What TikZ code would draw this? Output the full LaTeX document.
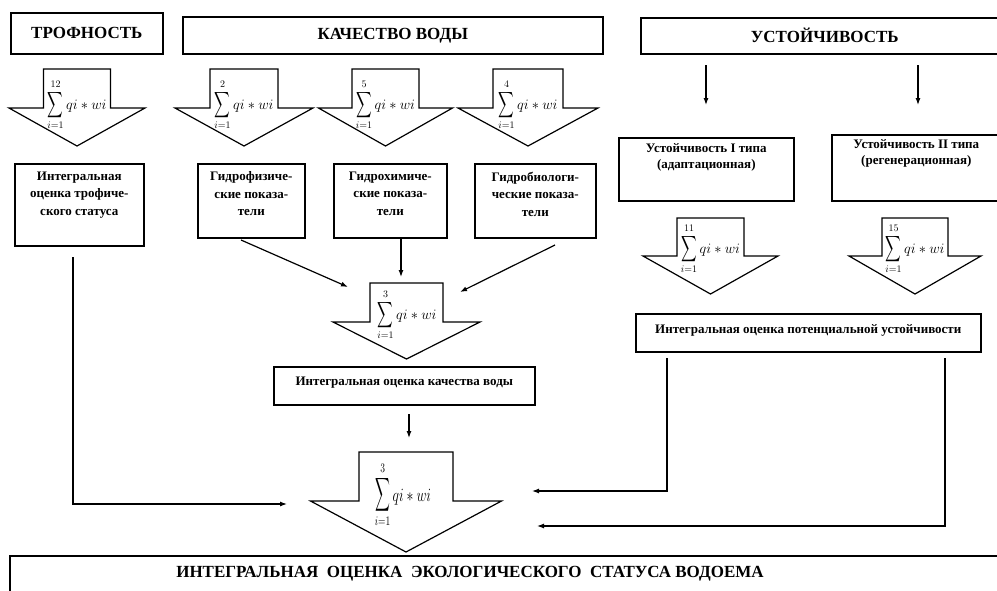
\documentclass[tikz,border=0pt]{standalone}
\usepackage{amsmath}
\usepackage{fontspec}
\setmainfont{Liberation Serif}
\usetikzlibrary{arrows.meta}
\newcommand{\blockarr}[7]{%
  \draw[barrow] (#2-#4,#3) -- (#2+#4,#3) -- (#2+#4,#5) -- (#2+#6,#5) -- (#2,#7)
    coordinate (#1) -- (#2-#6,#5) -- (#2-#4,#5) -- cycle;}
\newcommand{\qsum}[1]{{\fontsize{14}{14}\selectfont$\displaystyle\mathop{\scalebox{0.75}[1.25]{$\displaystyle\sum$}}\limits_{i=1}^{#1} qi\ast wi$}}
\begin{document}
\begin{tikzpicture}[x=1pt,y=-1pt,
  box/.style={draw, line width=1.6pt, inner sep=0pt, anchor=north west},
  barrow/.style={draw, line width=1.2pt, fill=white, line join=miter},
  conn/.style={line width=1.2pt, -{Latex[length=7pt,width=5pt]}},
  headf/.style={font=\fontsize{17}{20}\selectfont\bfseries},
  txt/.style={font=\fontsize{13}{17.5}\selectfont\bfseries},
  txtb/.style={font=\fontsize{13}{16}\selectfont\bfseries},
  frm/.style={inner sep=0pt}
]
\useasboundingbox (0,0) rectangle (997,590);
\clip (0,0) rectangle (997,590);

% headers
\node[box, headf, minimum width=152pt, minimum height=41pt] (troph) at (10,12) {ТРОФНОСТЬ};
\node[box, headf, minimum width=420pt, minimum height=37pt] (qual) at (182,16) {КАЧЕСТВО ВОДЫ};
\node[box, headf, minimum width=368pt, minimum height=36pt] (ust) at (640,17) {УСТОЙЧИВОСТЬ};

% top block arrows
\blockarr{a1}{77}{69}{33.5}{108}{68}{146}
\blockarr{a2}{244}{69}{34}{108}{69}{146}
\blockarr{a3}{385.5}{69}{33.5}{108}{67}{146}
\blockarr{a4}{528}{69}{35}{108}{70}{146}
\node[frm] (f1) at (77,105) {\qsum{12}};
\node[frm] (f2) at (244,105) {\qsum{2}};
\node[frm] (f3) at (385.5,105) {\qsum{5}};
\node[frm] (f4) at (528,105) {\qsum{4}};

% second row boxes
\node[box, txt] (trst) at (14,163) {\parbox[c][82pt][t]{129pt}{\centering\vspace*{8pt}Интегральная\\оценка трофиче-\\ского статуса}};
\node[box, txt] (gf) at (197,163) {\parbox[c][74pt][t]{107pt}{\centering\vspace*{8pt}Гидрофизиче-\\ские показа-\\тели}};
\node[box, txt] (gh) at (333,163) {\parbox[c][74pt][t]{113pt}{\centering\vspace*{8pt}Гидрохимиче-\\ские показа-\\тели}};
\node[box, txt] (gb) at (474,163) {\parbox[c][74pt][t]{121pt}{\centering\vspace*{8pt}Гидробиологи-\\ческие показа-\\тели}};

% stability boxes
\node[box, txtb] (u1) at (618,137) {\parbox[c][63pt][t]{175pt}{\centering\vspace*{6pt}Устойчивость I типа\\(адаптационная)}};
\node[box, txtb] (u2) at (831,134) {\parbox[c][66pt][t]{169pt}{\centering\vspace*{5pt}Устойчивость II типа\\(регенерационная)}};
\blockarr{a5}{710.5}{218}{33.5}{256}{67.5}{294}
\blockarr{a6}{915}{218}{33}{256}{66}{294}
\node[frm] (f5) at (710.5,249) {\qsum{11}};
\node[frm] (f6) at (915,249) {\qsum{15}};
\node[box, txt] (pot) at (635,313) {\parbox[c][38pt][t]{345pt}{\centering\vspace*{11pt}Интегральная оценка потенциальной устойчивости}};

% water quality
\blockarr{a7}{406.5}{283}{36.5}{322}{73.5}{359}
\node[frm] (f7) at (407,315) {\qsum{3}};
\node[box, txt] (wq) at (273,366) {\parbox[c][38pt][t]{261pt}{\centering\vspace*{10pt}Интегральная оценка качества воды}};

% final arrow
\blockarr{a8}{406}{452}{47}{501}{95.5}{552}
\node[frm] (f8) at (403,495) {\scalebox{0.95}[1.3]{\qsum{3}}};

% bottom box
\node[box, minimum width=1010pt, minimum height=60pt] (eco) at (9,555) {};
\node[headf, inner sep=0pt] (ecot) at (470,574) {ИНТЕГРАЛЬНАЯ\ \ ОЦЕНКА\ \ ЭКОЛОГИЧЕСКОГО\ \ СТАТУСА ВОДОЕМА};

% connector coordinates
\coordinate (s1) at (706,65);  \coordinate (e1) at (706,105);
\coordinate (s2) at (918,65);  \coordinate (e2) at (918,105);
\coordinate (gfo) at (241,240); \coordinate (gfi) at (348,287);
\coordinate (gho) at (401,239); \coordinate (ghi) at (401,277);
\coordinate (gbo) at (555,245); \coordinate (gbi) at (460,292);
\coordinate (wqo) at (409,414); \coordinate (wqi) at (409,438);
\coordinate (tro) at (73,257);  \coordinate (tri) at (287,504);
\coordinate (p1o) at (667,358); \coordinate (p1i) at (532,491);
\coordinate (p2o) at (945,358); \coordinate (p2i) at (537,526);

\draw[conn] (s1) -- (e1);
\draw[conn] (s2) -- (e2);
\draw[conn] (gfo) -- (gfi);
\draw[conn] (gho) -- (ghi);
\draw[conn] (gbo) -- (gbi);
\draw[conn] (wqo) -- (wqi);
\draw[conn] (tro) |- (tri);
\draw[conn] (p1o) |- (p1i);
\draw[conn] (p2o) |- (p2i);
\end{tikzpicture}
\end{document}
